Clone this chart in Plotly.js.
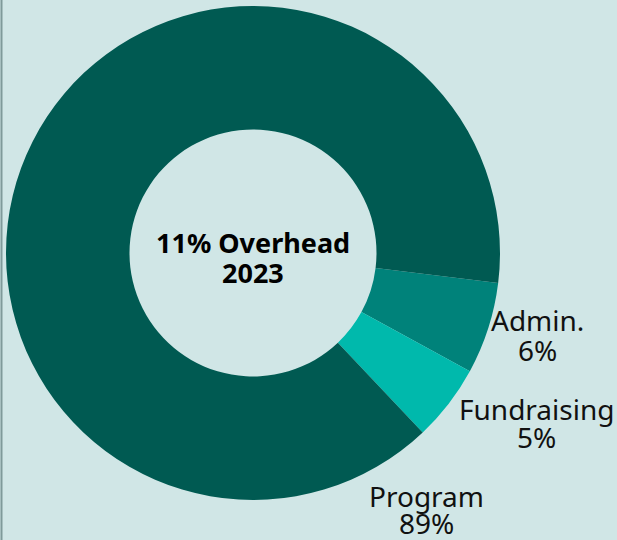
<!DOCTYPE html>
<html>
<head>
<meta charset="utf-8">
<script src="https://cdn.plot.ly/plotly-3.0.1.min.js"></script>
<style>
html,body{margin:0;padding:0;background:#d0e6e6;}
#chart{width:617px;height:540px;}
</style>
</head>
<body>
<div id="chart"></div>
<script>
const categories = ["Admin.", "Fundraising", "Program"];
const percents = [6, 5, 89];
const colors = ["#00827a", "#00b9ac", "#005a52"];
const centerTitle = ["11% Overhead", "2023"];

// label anchor positions (pixels from top-left) for each category: [x, yName, yPercent]
const labelPos = [[537, 320, 350], [536, 409, 437], [426, 496, 523]];

const W = 617, H = 540;
const annotations = [];
function addText(txt, px, py, size, bold) {
  annotations.push({
    xref: "paper", yref: "paper",
    x: px / W, y: 1 - py / H,
    text: bold ? "<b>" + txt + "</b>" : txt,
    showarrow: false,
    xanchor: "center", yanchor: "middle",
    align: "center",
    font: {family: "'Noto Sans', Lato, sans-serif", size: size, color: bold ? "#000" : "#111"}
  });
}
categories.forEach((c, i) => {
  addText(c, labelPos[i][0], labelPos[i][1], 28, false);
  addText(percents[i] + "%", labelPos[i][0], labelPos[i][2], 28, false);
});
addText(centerTitle[0], 253, 242, 27, true);
addText(centerTitle[1], 253, 272, 27, true);

const data = [{
  type: "pie",
  labels: categories,
  values: percents,
  hole: 0.5,
  sort: false,
  direction: "clockwise",
  rotation: 97,
  textinfo: "none",
  marker: {colors: colors, line: {width: 0}},
  domain: {x: [6/W, 500/W], y: [40/H, 534/H]},
  showlegend: false,
  hoverinfo: "none"
}];

const layout = {
  width: W, height: H,
  margin: {l: 0, r: 0, t: 0, b: 0},
  paper_bgcolor: "#d0e6e6",
  plot_bgcolor: "#d0e6e6",
  annotations: annotations,
  shapes: [{type: "line", xref: "paper", yref: "paper", x0: 1.5/W, x1: 1.5/W, y0: 0, y1: 1,
            line: {color: "#7f9a9a", width: 2}}]
};

Plotly.newPlot("chart", data, layout, {displayModeBar: false, staticPlot: true});
</script>
</body>
</html>
